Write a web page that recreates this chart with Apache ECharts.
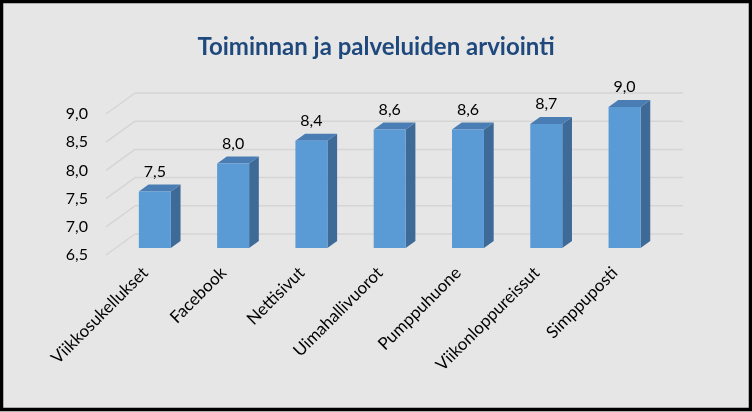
<!DOCTYPE html>
<html>
<head>
<meta charset="utf-8">
<script src="https://cdn.jsdelivr.net/npm/echarts@6/dist/echarts.min.js"></script>
<style>
html,body{margin:0;padding:0;background:#e7e6e6;}
#c{width:752px;height:412px;}
</style>
</head>
<body>
<div id="c"></div>
<script>
const categories = ['Viikkosukellukset','Facebook','Nettisivut','Uimahallivuorot','Pumppuhuone','Viikonloppureissut','Simppuposti'];
const values = [7.5, 8.0, 8.4, 8.6, 8.6, 8.7, 9.0];
const yTicks = [6.5, 7.0, 7.5, 8.0, 8.5, 9.0];

const fmt = v => v.toFixed(1).replace('.', ',');
const chart = echarts.init(document.getElementById('c'));

const WALL_DX = 29, WALL_DY = -21;
const FRONT_DX = 9.7, FRONT_DY = -7;
const DEPTH_DX = 9.7, DEPTH_DY = -7;
const HALF_W = 16;

chart.setOption({
  backgroundColor: '#e7e6e6',
  animation: false,
  textStyle: { fontFamily: 'Lato' },
  title: {
    text: 'Toiminnan ja palveluiden arviointi',
    left: 'center', top: 30,
    textStyle: { fontFamily: 'Lato', fontWeight: 'bold', fontSize: 24, color: '#1F497D' }
  },
  graphic: [{
    type: 'rect', silent: true, z: 100,
    shape: { x: 1.5, y: 1.5, width: 749, height: 408 },
    style: { fill: 'none', stroke: '#000', lineWidth: 3.5 }
  }],
  grid: { left: 106, width: 548, top: 114, height: 141 },
  xAxis: {
    type: 'category', data: categories, boundaryGap: true,
    axisLine: { show: false }, axisTick: { show: false },
    axisLabel: { rotate: 45, interval: 0, margin: 15, fontSize: 17, fontFamily: 'Lato', color: '#000' }
  },
  yAxis: {
    type: 'value', min: yTicks[0], max: yTicks[yTicks.length - 1], interval: 0.5,
    axisLine: { show: false }, axisTick: { show: false }, splitLine: { show: false },
    axisLabel: { margin: 18, fontSize: 16, fontFamily: 'Lato', color: '#000', formatter: v => fmt(v) }
  },
  series: [
    {
      type: 'custom', z: 1, silent: true,
      data: yTicks.map(v => [0, v]),
      renderItem: function (params, api) {
        const cs = params.coordSys;
        const y = api.coord([0, api.value(1)])[1];
        const l = cs.x, r = cs.x + cs.width;
        const st = { stroke: '#d5d5d5', lineWidth: 1.5 };
        return {
          type: 'group', children: [
            { type: 'line', shape: { x1: l, y1: y, x2: l + WALL_DX, y2: y + WALL_DY }, style: st },
            { type: 'line', shape: { x1: l + WALL_DX, y1: y + WALL_DY, x2: r + WALL_DX, y2: y + WALL_DY }, style: st }
          ]
        };
      }
    },
    {
      type: 'custom', z: 2,
      data: values.map((v, i) => [i, v]),
      renderItem: function (params, api) {
        const i = api.value(0), v = api.value(1);
        const top = api.coord([i, v]);
        const bot = api.coord([i, yTicks[0]]);
        const cx = top[0] + FRONT_DX;
        const yT = top[1] + FRONT_DY, yB = bot[1] + FRONT_DY;
        const x0 = cx - HALF_W, x1 = cx + HALF_W;
        return {
          type: 'group', children: [
            { type: 'polygon', shape: { points: [[x1, yT], [x1 + DEPTH_DX, yT + DEPTH_DY], [x1 + DEPTH_DX, yB + DEPTH_DY], [x1, yB]] }, style: { fill: '#3E6A97' } },
            { type: 'polygon', shape: { points: [[x0, yT], [x1, yT], [x1 + DEPTH_DX, yT + DEPTH_DY], [x0 + DEPTH_DX, yT + DEPTH_DY]] }, style: { fill: '#4A7DB3' } },
            { type: 'rect', shape: { x: x0, y: yT, width: x1 - x0, height: yB - yT }, style: { fill: '#5B9BD5' } },
            { type: 'text', style: { x: cx, y: yT - 20, text: fmt(v), fill: '#000', font: '16px Lato', align: 'center', verticalAlign: 'middle' } }
          ]
        };
      }
    }
  ]
});
</script>
</body>
</html>
